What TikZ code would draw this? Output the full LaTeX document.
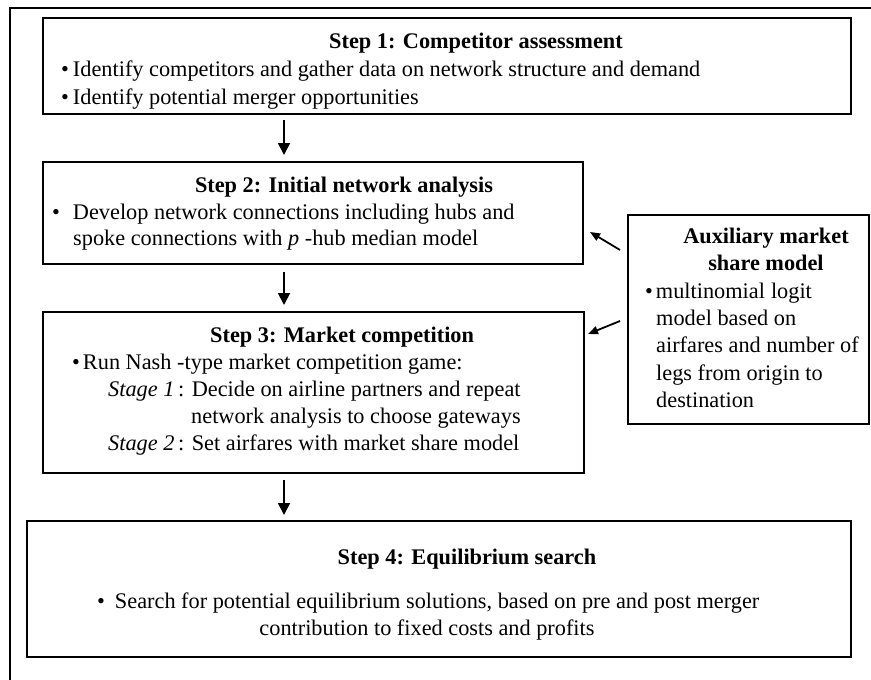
\documentclass[tikz,border=0pt]{standalone}
\usepackage{fontspec}
\setmainfont{Liberation Serif}
\usetikzlibrary{arrows.meta}
\begin{document}
\begin{tikzpicture}[x=1pt,y=-1pt,
  box/.style={draw, line width=1.4pt, inner sep=0pt, outer sep=0pt},
  txt/.style={anchor=base west, inner sep=0pt, font=\fontsize{22.3}{26}\selectfont},
  ttl/.style={anchor=base, inner sep=0pt, font=\fontsize{22.3}{26}\selectfont\bfseries},
  varr/.style={line width=1.8pt, -{Triangle[length=12pt,width=12pt]}},
  darr/.style={line width=1.8pt, -{Triangle[length=10pt,width=8pt]}}]
\useasboundingbox (0,0) rectangle (871,680);
% outer frame (cropped)
\draw[line width=1.3pt] (10,680) -- (10,8) -- (871,8);

% boxes
\node[box, minimum width=808pt, minimum height=96pt] (b1) at (447,66) {};
\node[box, minimum width=540pt, minimum height=102pt] (b2) at (313,213) {};
\node[box, minimum width=541pt, minimum height=161pt] (b3) at (313.5,392.5) {};
\node[box, minimum width=241pt, minimum height=209pt] (aux) at (748.5,319.5) {};
\node[box, minimum width=824pt, minimum height=136pt] (b4) at (439,589) {};

% step 1
\node[ttl] (t1) at (476,48) {Step 1: Competitor assessment};
\node[txt] (l11) at (61,76) {\textbullet\hspace{4pt}Identify competitors and gather data on network structure and demand};
\node[txt] (l12) at (61,104) {\textbullet\hspace{4pt}Identify potential merger opportunities};

% step 2
\node[ttl] (t2) at (344,192) {Step 2: Initial network analysis};
\node[txt] (l21) at (52,219) {\textbullet\hspace{13pt}Develop network connections including hubs and};
\node[txt] (l22) at (73,245) {spoke connections with \textit{p} -hub median model};

% step 3
\node[txt, font=\fontsize{22.3}{26}\selectfont\bfseries] (t3) at (210,342) {Step 3: Market competition};
\node[txt] (l31) at (72,369) {\textbullet\hspace{3pt}Run Nash -type market competition game:};
\node[txt] (l32) at (108,396) {\textit{Stage 1}\,: Decide on airline partners and repeat};
\node[txt] (l33) at (191,423) {network analysis to choose gateways};
\node[txt] (l34) at (108,450) {\textit{Stage 2}\,: Set airfares with market share model};

% auxiliary
\node[ttl] (ta1) at (766,243) {Auxiliary market};
\node[ttl] (ta2) at (766,270) {share model};
\node[txt] (la1) at (645,298) {\textbullet\hspace{3pt}multinomial\hspace{6pt}logit};
\node[txt] (la2) at (656,325) {model based on};
\node[txt] (la3) at (656,352) {airfares and number of};
\node[txt] (la4) at (656,380) {legs from origin to};
\node[txt] (la5) at (656,407) {destination};

% step 4
\node[ttl] (t4) at (467,564) {Step 4: Equilibrium search};
\node[txt] (l41) at (97,608) {\textbullet\hspace{10pt}Search for potential equilibrium solutions, based on pre and post merger};
\node[anchor=base, inner sep=0pt, font=\fontsize{22.3}{26}\selectfont] (l42) at (427,635) {contribution to fixed costs and profits};

% connectors
\coordinate (ax) at (284,0);
\draw[varr, shorten <=6pt, shorten >=7pt] (b1.south -| ax) -- (b2.north -| ax);
\draw[varr, shorten <=8pt, shorten >=7pt] (b2.south -| ax) -- (b3.north -| ax);
\draw[varr, shorten <=7pt, shorten >=6pt] (b3.south -| ax) -- (b4.north -| ax);

\coordinate (s1) at (620,250);
\coordinate (e1) at (590,232);
\coordinate (s2) at (620,321);
\coordinate (e2) at (588,334);
\draw[darr] (s1) -- (e1);
\draw[darr] (s2) -- (e2);
\end{tikzpicture}
\end{document}
